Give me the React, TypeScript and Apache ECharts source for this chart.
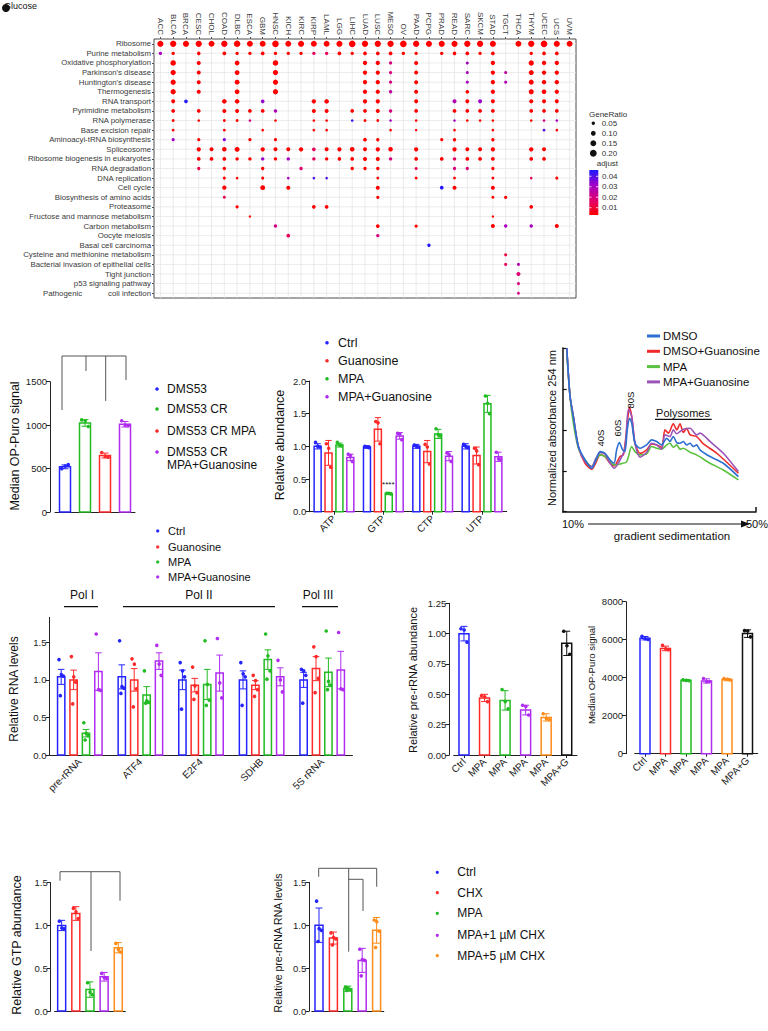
import { useEffect, useRef } from 'react';
import * as echarts from 'echarts';

const FONT = '"Liberation Sans", Arial, Helvetica, sans-serif';

// ---------------- Panel A: KEGG enrichment dot plot ----------------
const cancerTypes = ['ACC','BLCA','BRCA','CESC','CHOL','COAD','DLBC','ESCA','GBM','HNSC','KICH','KIRC','KIRP','LAML','LGG','LIHC','LUAD','LUSC','MESO','OV','PAAD','PCPG','PRAD','READ','SARC','SKCM','STAD','TGCT','THCA','THYM','UCEC','UCS','UVM'];
const pathways = ['Ribosome','Purine metabolism','Oxidative phosphorylation',"Parkinson's disease","Huntington's disease",'Thermogenesis','RNA transport','Pyrimidine metabolism','RNA polymerase','Base excision repair','Aminoacyl-tRNA biosynthesis','Spliceosome','Ribosome biogenesis in eukaryotes','RNA degradation','DNA replication','Cell cycle','Biosynthesis of amino acids','Proteasome','Fructose and mannose metabolism','Carbon metabolism','Oocyte meiosis','Basal cell carcinoma','Cysteine and methionine metabolism','Bacterial invasion of epithelial cells','Tight junction','p53 signaling pathway','Pathogenic            coli infection'];
// [cancer type, GeneRatio, adjusted p (default 0.002)]
const ribosomeDots = [['ACC',.16],['BLCA',.17],['BRCA',.16],['CESC',.17],['CHOL',.15],['COAD',.17],['DLBC',.18],['ESCA',.15],['GBM',.15],['HNSC',.19],['KICH',.15],['KIRC',.16],['KIRP',.15],['LAML',.15],['LGG',.16],['LIHC',.19],['LUAD',.17],['LUSC',.17],['MESO',.17],['OV',.19],['PAAD',.17],['PCPG',.16],['PRAD',.16],['READ',.16],['SARC',.17],['SKCM',.17],['STAD',.16],['THCA',.15],['THYM',.17],['UCEC',.19],['UCS',.16],['UVM',.15]];
const purineDots = [['ACC',.05,.03],['BLCA',.05],['CESC',.055],['COAD',.06],['DLBC',.05],['ESCA',.05],['GBM',.06],['HNSC',.05],['KICH',.05],['KIRC',.05],['KIRP',.05,.015],['LAML',.05,.015],['LGG',.06],['LIHC',.05],['LUAD',.06],['LUSC',.06],['MESO',.06],['OV',.05],['PAAD',.05],['PRAD',.05],['READ',.055],['SARC',.06],['SKCM',.05],['STAD',.06],['THYM',.05],['UCEC',.06],['UCS',.06]];
const oxphosDots = [['BLCA',.13],['CESC',.07],['DLBC',.1],['HNSC',.13],['LUAD',.08],['LUSC',.08],['MESO',.045,.02],['PAAD',.07],['SARC',.04,.03],['STAD',.08],['THYM',.12],['UCEC',.08],['UCS',.08]];
const parkinsonDots = [['BLCA',.12],['CESC',.07],['DLBC',.1],['HNSC',.12],['LUAD',.08],['LUSC',.08],['MESO',.045,.02],['PAAD',.07],['SARC',.04,.03],['STAD',.08],['TGCT',.04,.025],['THYM',.11],['UCEC',.08],['UCS',.08]];
const huntingtonDots = [['BLCA',.12],['CESC',.07],['DLBC',.1],['HNSC',.12],['LUAD',.08],['LUSC',.08],['MESO',.045,.02],['PAAD',.07],['SARC',.04,.03],['STAD',.08],['TGCT',.04,.028],['THYM',.11],['UCEC',.08],['UCS',.08]];
const thermoDots = [['BLCA',.12],['CESC',.07],['DLBC',.1],['HNSC',.12],['LUAD',.08],['LUSC',.08],['MESO',.05,.025],['PAAD',.07],['SARC',.06],['STAD',.08],['THYM',.11],['UCEC',.09],['UCS',.08]];
const rnaTransportDots = [['BLCA',.07],['BRCA',.06,.045],['COAD',.09],['DLBC',.09],['GBM',.06,.033],['KIRP',.08],['LAML',.09],['LUAD',.08],['LUSC',.08],['PAAD',.07],['READ',.07,.028],['SARC',.07],['SKCM',.07,.032],['STAD',.07],['THYM',.07],['UCEC',.07],['UCS',.07]];
const pyrimidineDots = [['BLCA',.06],['CESC',.06],['COAD',.07],['DLBC',.07],['ESCA',.06],['GBM',.06],['HNSC',.05,.03],['KIRP',.07],['LAML',.07],['LIHC',.06],['LUAD',.06],['LUSC',.07],['MESO',.05,.02],['PAAD',.06],['READ',.06],['SARC',.06],['SKCM',.06],['STAD',.06],['THYM',.06],['UCEC',.06],['UCS',.06]];
const rnaPolDots = [['BLCA',.035],['CESC',.03],['COAD',.035],['DLBC',.035],['ESCA',.03,.02],['HNSC',.03],['KIRP',.03],['LAML',.03],['LIHC',.03,.042],['LUAD',.035],['LUSC',.035],['MESO',.03,.03],['PAAD',.03],['READ',.03,.03],['SARC',.03],['SKCM',.03],['STAD',.03],['THYM',.03],['UCEC',.03,.02],['UCS',.03,.03]];
const berDots = [['BLCA',.035],['COAD',.035],['GBM',.03],['KIRP',.03],['LAML',.03],['MESO',.03],['PAAD',.025],['READ',.03],['STAD',.03],['UCEC',.035,.04],['UCS',.03]];
const aminoacylDots = [['BLCA',.045,.032],['CESC',.045],['COAD',.045,.035],['ESCA',.045],['HNSC',.045],['LUAD',.06],['LUSC',.05],['PRAD',.045],['READ',.05],['STAD',.05]];
const spliceosomeDots = [['CESC',.08],['CHOL',.07],['COAD',.09],['DLBC',.11],['GBM',.08],['HNSC',.07],['KICH',.07],['KIRC',.08],['KIRP',.06,.015],['LAML',.07],['LGG',.08],['LIHC',.09],['LUAD',.07],['LUSC',.08],['MESO',.09],['PAAD',.08],['READ',.08],['SARC',.07],['SKCM',.07],['STAD',.08],['THYM',.08],['UCEC',.07]];
const ribiDots = [['CESC',.06],['CHOL',.06],['COAD',.06],['DLBC',.05],['ESCA',.05],['GBM',.05,.032],['HNSC',.05],['KICH',.05,.03],['KIRP',.05,.015],['LAML',.05],['LGG',.055],['LIHC',.06],['LUAD',.07],['LUSC',.07],['MESO',.05,.02],['PAAD',.06],['PRAD',.06],['READ',.05,.015],['SARC',.06],['SKCM',.06],['STAD',.06],['THYM',.06],['UCEC',.06]];
const rnaDegDots = [['CESC',.045,.012],['COAD',.05],['GBM',.05],['KIRC',.05,.018],['LIHC',.05],['LUAD',.05],['LUSC',.05],['PAAD',.04,.012],['READ',.045,.02],['SARC',.045,.018],['STAD',.045]];
const dnaRepDots = [['COAD',.04],['DLBC',.03],['GBM',.04],['KICH',.03,.03],['KIRP',.03,.04],['LAML',.03,.04],['LUSC',.035],['PAAD',.035],['READ',.035],['STAD',.035],['THYM',.03,.015],['UCS',.04]];
const cellCycleDots = [['COAD',.08],['GBM',.1],['KICH',.07],['LUSC',.07],['PRAD',.06,.045],['READ',.07],['STAD',.07]];
const aaBiosynDots = [['COAD',.04,.012],['LUSC',.045],['STAD',.04],['TGCT',.045]];
const proteasomeDots = [['DLBC',.045],['KIRP',.06],['LAML',.06],['THYM',.06]];
const fructoseDots = [['ESCA',.025],['STAD',.025]];
const carbonDots = [['HNSC',.05,.02],['LUSC',.06],['PAAD',.045],['STAD',.07],['TGCT',.05,.03],['THYM',.05,.03],['UCS',.07]];
const oocyteDots = [['KICH',.06,.015],['LUSC',.05,.02]];
const basalDots = [['PCPG',.05,.045]];
const cysteineDots = [['TGCT',.04,.012]];
const bacterialDots = [['TGCT',.04,.015],['THCA',.04,.028]];
const tightDots = [['THCA',.07,.018]];
const p53Dots = [['THCA',.04,.02]];
const pathogenicDots = [['THCA',.035,.02]];
const pathwayDots = [ribosomeDots, purineDots, oxphosDots, parkinsonDots, huntingtonDots, thermoDots, rnaTransportDots, pyrimidineDots, rnaPolDots, berDots, aminoacylDots, spliceosomeDots, ribiDots, rnaDegDots, dnaRepDots, cellCycleDots, aaBiosynDots, proteasomeDots, fructoseDots, carbonDots, oocyteDots, basalDots, cysteineDots, bacterialDots, tightDots, p53Dots, pathogenicDots];
const geneRatioLegend = [0.05, 0.10, 0.15, 0.20];
const adjustLegend = [0.04, 0.03, 0.02, 0.01];

// ---------------- Panel B: OP-Puro DMS53 ----------------
const opGroups = ['DMS53', 'DMS53 CR', 'DMS53 CR MPA', 'DMS53 CR\nMPA+Guanosine'];
const opMean = [520, 1025, 650, 1010];
const opSd = [22, 38, 28, 32];
const opPts = [[500, 530, 545], [1060, 1050, 985], [685, 640, 630], [1050, 1000, 995]];

// ---------------- Panel C: nucleotide abundance ----------------
const nucleotides = ['ATP', 'GTP', 'CTP', 'UTP'];
const nucTreatments = ['Ctrl', 'Guanosine', 'MPA', 'MPA+Guanosine'];
const nucMean = [[1.0, 0.99, 1.0, 1.0], [0.9, 1.26, 0.92, 0.86], [1.02, 0.28, 1.19, 1.65], [0.83, 1.16, 0.85, 0.84]];
const nucSd = [[0.04, 0.02, 0.03, 0.04], [0.19, 0.18, 0.17, 0.13], [0.03, 0.01, 0.07, 0.13], [0.05, 0.05, 0.07, 0.07]];
const nucPts = [
  [[1.06, 1.0, 0.99], [1.0, 0.99, 0.98], [1.02, 1.0, 0.99], [1.03, 1.0, 0.98]],
  [[1.04, 0.97, 0.68], [1.38, 1.36, 1.04], [1.03, 0.99, 0.73], [0.97, 0.93, 0.72]],
  [[1.06, 1.02, 1.01], [0.28, 0.28, 0.27], [1.27, 1.18, 1.16], [1.77, 1.66, 1.5]],
  [[0.88, 0.86, 0.77], [1.2, 1.19, 1.1], [0.9, 0.87, 0.77], [0.91, 0.81, 0.8]],
];

// ---------------- Panel D: polysome profiles (x: % of gradient span, y: normalized A254) ----------------
const polyTreatments = ['DMSO', 'DMSO+Guanosine', 'MPA', 'MPA+Guanosine'];
const dmsoTrace = [[2.1,100],[2.9,84.7],[3.8,70.4],[5.5,58.2],[8.1,39.8],[11.6,31.6],[15,26.5],[17.2,31.6],[19.3,36.7],[21.9,35.7],[24.5,31.6],[26.6,29.6],[27.9,37.8],[29.3,42.2],[31,37.8],[32.2,36.7],[33.4,50],[34.6,57],[35.7,54.1],[37.4,41.8],[40,38.8],[43.4,40.8],[46,43.9],[48.6,42.9],[51.2,40.8],[53.8,44.9],[55.5,42.9],[57.2,45.9],[59,42.2],[60.7,41.8],[62.4,42.9],[64.1,40.8],[65.9,41.8],[67.6,39.8],[69.3,40.8],[71,37.8],[76.2,33.7],[83.1,29.6],[90.9,21.4]];
const dmsoGuaTrace = [[2.1,100],[3.8,70.4],[5.5,58.2],[8.1,39.8],[11.6,29.6],[15,25.9],[17.2,30],[19.3,34.7],[21.9,33.7],[24.5,29.6],[26.6,28],[29.7,33.7],[31.4,34.7],[33.1,50],[34.5,63.9],[35.7,58.2],[37.4,41.8],[40,35.7],[43.4,37.8],[46,41.4],[48.6,40.8],[51.2,39.4],[52.9,50],[54.7,48],[57.2,53.7],[59,50],[60.7,53.7],[62.4,48.4],[64.1,51],[65.9,46.9],[69.3,45.9],[72.8,41.4],[79.7,35.7],[90.9,23.5]];
const mpaTrace = [[2.1,96.9],[3.8,70.4],[5.5,54.1],[8.1,38.8],[11.6,31.6],[15,27.6],[17.2,31.6],[19.3,34.7],[21.9,33.7],[24.5,30.6],[26.6,28.6],[29.7,29.2],[33.1,30.6],[35.7,39.8],[37.4,36.7],[40,34.7],[43.4,35.3],[46,39.8],[48.6,38.8],[51.2,38.2],[53.8,40.8],[55.5,41.8],[57.2,39.4],[59,40.8],[60.7,38.2],[62.4,38.8],[65.9,36.3],[69.3,34.7],[76.2,29.6],[83.1,25.5],[90.9,19.4]];
const mpaGuaTrace = [[2.1,100],[3.8,70.4],[5.5,58.2],[8.1,39.8],[11.6,30.6],[15,27.6],[17.2,32.7],[19.3,36.1],[21.9,35.3],[24.5,29.6],[26.6,26.5],[29.7,31.6],[32.2,38.8],[34,62.7],[35.7,58.2],[37.4,41.8],[40,33.3],[43.4,36.1],[46,41.8],[48.6,40.8],[51.2,38.2],[52.9,46.9],[55.5,45.9],[57.2,50],[59,47.6],[60.7,49],[62.4,50.4],[65.9,51],[69.3,46.9],[71,48],[76.2,42.9],[83.1,35.7],[90.9,24.5]];
const peakLabels = ['40S', '60S', '80S'];

// ---------------- Panel E: relative RNA levels ----------------
const rnaTargets = ['pre-rRNA', 'ATF4', 'E2F4', 'SDHB', '5S rRNA'];
const rnaTreatments = ['Ctrl', 'Guanosine', 'MPA', 'MPA+Guanosine'];
const rnaMean = [[1.04, 1.04, 1.0, 1.0, 1.0], [1.0, 1.0, 0.93, 0.93, 1.15], [0.29, 0.8, 0.94, 1.27, 1.1], [1.11, 1.25, 1.09, 1.04, 1.13]];
const rnaSem = [[0.1, 0.16, 0.13, 0.12, 0.1], [0.13, 0.15, 0.09, 0.06, 0.16], [0.05, 0.11, 0.2, 0.13, 0.19], [0.25, 0.11, 0.24, 0.12, 0.25]];
const rnaPts = [
  [[1.27, 1.07, 1.05, 0.79], [1.52, 0.91, 0.89, 0.82], [1.23, 1.12, 1.04, 0.61], [1.23, 1.08, 1.04, 0.66], [1.14, 1.12, 1.06, 0.69]],
  [[1.31, 1.04, 0.97, 0.68], [1.28, 1.21, 0.88, 0.64], [1.17, 0.92, 0.83, 0.74], [1.06, 0.99, 0.87, 0.78], [1.44, 1.31, 1.02, 0.83]],
  [[0.43, 0.29, 0.26, 0.2], [1.12, 0.72, 0.7, 0.69], [1.52, 0.94, 0.73, 0.66], [1.61, 1.32, 1.12, 1.01], [1.65, 0.98, 0.93, 0.87]],
  [[1.61, 0.87, 0.86], [1.46, 1.21, 1.06], [1.55, 0.96, 0.76], [1.26, 1.0, 0.84], [1.63, 0.88, 0.87]],
];
const polGroups = ['Pol I', 'Pol II', 'Pol III'];

// ---------------- Panel F: pre-rRNA abundance ----------------
const doseGroups = ['Ctrl', 'MPA', 'MPA', 'MPA', 'MPA', 'MPA+G'];
const preMean = [1.0, 0.47, 0.45, 0.37, 0.31, 0.92];
const preSd = [0.06, 0.03, 0.08, 0.04, 0.03, 0.1];
const prePts = [[1.04, 1.03, 0.93], [0.49, 0.48, 0.44], [0.54, 0.44, 0.38], [0.41, 0.4, 0.33], [0.34, 0.3, 0.29], [1.02, 0.9, 0.83]];

// ---------------- Panel G: OP-Puro ----------------
const puroMean = [6080, 5540, 3860, 3830, 3900, 6320];
const puroSd = [90, 120, 40, 110, 60, 200];
const puroPts = [[6180, 6050, 6020], [5700, 5520, 5480], [3890, 3860, 3840], [3960, 3790, 3800], [3960, 3920, 3880], [6480, 6460, 6150]];

// ---------------- Panels H / I: CHX rescue ----------------
const chxGroups = ['Ctrl', 'CHX', 'MPA', 'MPA+1 µM CHX', 'MPA+5 µM CHX'];
const gtpMean = [1.0, 1.14, 0.25, 0.4, 0.74];
const gtpSd = [0.06, 0.08, 0.09, 0.05, 0.06];
const gtpPts = [[1.05, 0.97, 0.96], [1.2, 1.16, 1.08], [0.33, 0.22, 0.19], [0.44, 0.39, 0.38], [0.79, 0.72, 0.69]];
const preChxMean = [1.0, 0.85, 0.26, 0.59, 0.94];
const preChxSem = [0.2, 0.07, 0.03, 0.14, 0.15];
const preChxPts = [[1.28, 0.96, 0.94, 0.81], [0.91, 0.86, 0.84, 0.77], [0.28, 0.27, 0.25, 0.24], [0.72, 0.6, 0.59, 0.41], [1.06, 1.04, 0.93, 0.74]];

// ---------------- styling ----------------
const BLUE = '#2424ff', RED = '#ff2a2a', GREEN = '#22bb22', PURPLE = '#b02cf0', ORANGE = '#ff8c1a', BLACK = '#111111';
const AX = '#222';
const HEAT = ['#ff0000', '#e0006e', '#a000c8', '#1a1aff'];
const dotSize = (r: number) => 6.8 * Math.sqrt(r / 0.2);

const T = (text: string, x: number, y: number, size: number, o: any = {}) => ({
  type: 'text', x, y, rotation: o.rot || 0, silent: true, z: 50,
  style: {
    text, fontSize: size, fontFamily: FONT, fill: o.color || '#111', fontWeight: o.weight || 'normal',
    textAlign: o.align || 'left', align: o.align || 'left',
    textVerticalAlign: 'middle', verticalAlign: 'middle',
  },
});
const L = (x1: number, y1: number, x2: number, y2: number, color = '#555', w = 1) => ({
  type: 'line', silent: true, z: 50, shape: { x1, y1, x2, y2 }, style: { stroke: color, lineWidth: w },
});
const C = (cx: number, cy: number, r: number, fill: string) => ({ type: 'circle', silent: true, z: 50, shape: { cx, cy, r }, style: { fill } });

const grid = (left: number, top: number, width: number, height: number, extra: any = {}) => ({
  left, top, width, height, containLabel: false, outerBoundsMode: 'none', ...extra,
});

const valY = (gi: number, max: number, interval: number, fmt: (v: number) => string, offset = 0, showMax = true) => ({
  type: 'value', gridIndex: gi, min: 0, max, interval, offset,
  axisLine: { show: true, lineStyle: { color: AX, width: 1 } },
  axisTick: { show: true, length: 4, lineStyle: { color: AX } },
  axisLabel: { fontSize: 9.5, color: '#222', margin: 3, formatter: fmt, fontFamily: FONT, showMaxLabel: showMax },
  splitLine: { show: false },
});
const catX = (gi: number, data: string[], showLabels: boolean, ticks: boolean, fontSize = 10) => ({
  type: 'category', gridIndex: gi, data,
  axisLine: { show: true, lineStyle: { color: AX, width: 1 } },
  axisTick: { show: ticks, alignWithLabel: true, length: 3, lineStyle: { color: AX } },
  axisLabel: { show: showLabels, rotate: 45, interval: 0, fontSize, color: '#222', margin: 5, fontFamily: FONT },
  splitLine: { show: false },
});

const JIT = [-0.3, 0.02, 0.3, -0.12];

function panelSeries(ax: number, means: number[][], errs: number[][], pts: number[][][], colors: string[], byGroup: boolean, spacing: number, barW: number) {
  const nG = means.length;
  const bars: number[][] = [];
  const dots: number[][] = [];
  means.forEach((row, g) => row.forEach((m, c) => {
    const ci = byGroup ? g : c;
    bars.push([c, g, m, errs[g][c], ci]);
    pts[g][c].forEach((v, k) => dots.push([c, g, v, k, ci]));
  }));
  const xOf = (api: any, c: number, g: number) => api.coord([c, 0])[0] + (g - (nG - 1) / 2) * spacing;
  const cap = Math.min(barW * 0.45, 3.5);
  return [
    {
      type: 'custom', xAxisIndex: ax, yAxisIndex: ax, data: bars, z: 3, silent: true,
      renderItem: (_p: any, api: any) => {
        const c = api.value(0), g = api.value(1), m = api.value(2), e = api.value(3);
        const col = colors[api.value(4)];
        const base = api.coord([c, 0]);
        const top = api.coord([c, m]);
        const hi = api.coord([c, m + e]);
        const lo = api.coord([c, Math.max(m - e, 0)]);
        const cx = xOf(api, c, g);
        return {
          type: 'group', children: [
            { type: 'rect', shape: { x: cx - barW / 2, y: top[1], width: barW, height: base[1] - top[1] }, style: { fill: '#ffffff', stroke: col, lineWidth: 1.5 } },
            { type: 'line', shape: { x1: cx, y1: hi[1], x2: cx, y2: lo[1] }, style: { stroke: col, lineWidth: 1 } },
            { type: 'line', shape: { x1: cx - cap, y1: hi[1], x2: cx + cap, y2: hi[1] }, style: { stroke: col, lineWidth: 1 } },
            { type: 'line', shape: { x1: cx - cap, y1: lo[1], x2: cx + cap, y2: lo[1] }, style: { stroke: col, lineWidth: 1 } },
          ],
        };
      },
    },
    {
      type: 'custom', xAxisIndex: ax, yAxisIndex: ax, data: dots, z: 4, silent: true,
      renderItem: (_p: any, api: any) => {
        const c = api.value(0), g = api.value(1), v = api.value(2), k = api.value(3);
        const col = colors[api.value(4)];
        const p = api.coord([c, v]);
        const cx = xOf(api, c, g) + JIT[k % JIT.length] * barW;
        return { type: 'circle', shape: { cx, cy: p[1], r: 1.8 }, style: { fill: col } };
      },
    },
  ];
}

function buildOption(): any {
  const dotData: number[][] = [];
  pathwayDots.forEach((row: any[], ri) => row.forEach((d: any[]) => {
    dotData.push([cancerTypes.indexOf(d[0]), ri, d[1], d[2] === undefined ? 0.002 : d[2]]);
  }));

  const grids = [
    grid(154, 39, 422, 259, { show: true, borderColor: '#4d4d4d', borderWidth: 1, backgroundColor: '#ffffff' }), // 0 A
    grid(55, 381.7, 80, 130.3), // 1 B
    grid(309.3, 381, 197.4, 130.7), // 2 C
    grid(562.7, 348, 193.3, 163.7), // 3 D
    grid(49.5, 617.3, 303, 137.7), // 4 E
    grid(453.7, 603.3, 123.3, 151.7), // 5 F
    grid(634.75, 601.7, 123, 152), // 6 G
    grid(54.6, 882.7, 70.75, 128.3), // 7 H
    grid(311.8, 882.3, 72, 128.7), // 8 I
  ];

  const xAxis: any[] = [
    {
      type: 'category', gridIndex: 0, data: cancerTypes, position: 'top',
      axisLine: { show: false },
      axisTick: { show: true, alignWithLabel: true, length: 2, lineStyle: { color: '#4d4d4d' } },
      axisLabel: { rotate: 90, interval: 0, fontSize: 8, color: '#3a3a3a', margin: 4, fontFamily: FONT },
      splitLine: { show: false },
    },
    catX(1, opGroups, false, false),
    catX(2, nucleotides, true, true, 10),
    { type: 'value', gridIndex: 3, min: 0, max: 100, axisLine: { show: true, lineStyle: { color: BLACK, width: 1.5 } }, axisTick: { show: false }, axisLabel: { show: false }, splitLine: { show: false } },
    catX(4, rnaTargets, true, false, 10),
    catX(5, doseGroups, true, true, 10),
    catX(6, doseGroups, true, true, 10),
    catX(7, chxGroups, false, false),
    catX(8, chxGroups, false, false),
  ];
  const yAxis: any[] = [
    {
      type: 'category', gridIndex: 0, data: pathways, inverse: true,
      axisLine: { show: false },
      axisTick: { show: true, alignWithLabel: true, length: 2, lineStyle: { color: '#4d4d4d' } },
      axisLabel: { interval: 0, fontSize: 7.8, color: '#3a3a3a', margin: 3, fontFamily: FONT },
      splitLine: { show: false },
    },
    valY(1, 1500, 500, (v) => String(v), 5),
    valY(2, 2, 0.5, (v) => v.toFixed(1)),
    { type: 'value', gridIndex: 3, min: 0, max: 100, interval: 25, axisLine: { show: true, lineStyle: { color: BLACK, width: 1.5 } }, axisTick: { show: true, inside: true, length: 4, lineStyle: { color: BLACK, width: 1.2 } }, axisLabel: { show: false }, splitLine: { show: false } },
    valY(4, 1.833, 0.5, (v) => v.toFixed(1), 0, false),
    valY(5, 1.25, 0.25, (v) => v.toFixed(2), 4.4),
    valY(6, 8000, 2000, (v) => String(v), 8.75),
    valY(7, 1.5, 0.5, (v) => v.toFixed(1), 3.9),
    valY(8, 1.5, 0.5, (v) => v.toFixed(1), 2.5),
  ];

  const series: any[] = [
    {
      type: 'scatter', xAxisIndex: 0, yAxisIndex: 0, data: dotData, z: 5, silent: true,
      symbolSize: (v: number[]) => dotSize(v[2]),
      itemStyle: { opacity: 1 },
    },
    {
      type: 'custom', xAxisIndex: 0, yAxisIndex: 0, z: 1, silent: true,
      data: cancerTypes.map((_, i) => [i, 0]),
      renderItem: (p: any, api: any) => {
        const x = api.coord([api.value(0), 0])[0];
        return { type: 'line', shape: { x1: x, y1: p.coordSys.y, x2: x, y2: p.coordSys.y + p.coordSys.height }, style: { stroke: '#e6e6e6', lineWidth: 0.8 } };
      },
    },
    {
      type: 'custom', xAxisIndex: 0, yAxisIndex: 0, z: 1, silent: true,
      data: pathways.map((_, j) => [0, j]),
      renderItem: (p: any, api: any) => {
        const y = api.coord([0, api.value(1)])[1];
        return { type: 'line', shape: { x1: p.coordSys.x, y1: y, x2: p.coordSys.x + p.coordSys.width, y2: y }, style: { stroke: '#e6e6e6', lineWidth: 0.8 } };
      },
    },
    ...panelSeries(1, [opMean], [opSd], [opPts], [BLUE, GREEN, RED, PURPLE], false, 0, 11),
    ...panelSeries(2, nucMean, nucSd, nucPts, [BLUE, RED, GREEN, PURPLE], true, 10.9, 7),
    ...[dmsoTrace, dmsoGuaTrace, mpaTrace, mpaGuaTrace].map((tr, i) => ({
      type: 'line', xAxisIndex: 3, yAxisIndex: 3, data: tr, showSymbol: false, smooth: 0.25, silent: true, z: 3 + (i === 0 ? 2 : 0),
      name: polyTreatments[i],
      lineStyle: { width: 1.6, color: ['#2d6fd0', '#ee2a2a', '#5cc040', '#9b55b8'][i] },
    })),
    ...panelSeries(4, rnaMean, rnaSem, rnaPts, [BLUE, RED, GREEN, PURPLE], true, 12.4, 7.3),
    ...panelSeries(5, [preMean], [preSd], [prePts], [BLUE, RED, GREEN, PURPLE, ORANGE, BLACK], false, 0, 10),
    ...panelSeries(6, [puroMean], [puroSd], [puroPts], [BLUE, RED, GREEN, PURPLE, ORANGE, BLACK], false, 0, 10),
    ...panelSeries(7, [gtpMean], [gtpSd], [gtpPts], [BLUE, RED, GREEN, PURPLE, ORANGE], false, 0, 8),
    ...panelSeries(8, [preChxMean], [preChxSem], [preChxPts], [BLUE, RED, GREEN, PURPLE, ORANGE], false, 0, 8),
  ];

  const g: any[] = [];
  g.push(T('Glucose', 4, 6, 9, { color: '#111' }));
  g.push(C(6, 8, 4, '#111'));

  // Dot plot legend
  g.push(T('GeneRatio', 589, 114, 8, { color: '#333' }));
  geneRatioLegend.forEach((v, i) => {
    g.push(C(593.3, 123.3 + 10 * i, dotSize(v) / 2, '#111'));
    g.push(T(v.toFixed(2), 601.7, 123.3 + 10 * i, 8, { color: '#333' }));
  });
  g.push(T('adjust', 596.7, 163, 8, { color: '#333' }));
  g.push({
    type: 'rect', silent: true, z: 50, shape: { x: 589.3, y: 170, width: 9, height: 45 },
    style: { fill: new echarts.graphic.LinearGradient(0, 0, 0, 1, [
      { offset: 0, color: HEAT[3] }, { offset: 0.33, color: HEAT[2] }, { offset: 0.67, color: HEAT[1] }, { offset: 1, color: HEAT[0] },
    ]) },
  });
  adjustLegend.forEach((v) => {
    const y = 215 - ((v - 0.003) / 0.043) * 45;
    g.push(L(589.3, y, 591.5, y, '#ffffff', 0.8));
    g.push(L(596.1, y, 598.3, y, '#ffffff', 0.8));
    g.push(T(v.toFixed(2), 602, y, 8, { color: '#333' }));
  });

  // Panel B
  g.push(T('Median OP-Puro signal', 15, 446, 12.5, { rot: Math.PI / 2, align: 'center' }));
  [[62, 356, 126, 356], [62, 356, 62, 410], [86, 356, 86, 371], [105.7, 356, 105.7, 401], [126, 356, 126, 380]].forEach((l) => g.push(L(l[0], l[1], l[2], l[3])));
  const opY = [389, 409, 431, 452];
  opGroups.forEach((name, i) => {
    g.push(C(157, opY[i], 1.8, [BLUE, GREEN, RED, PURPLE][i]));
    name.split('\n').forEach((ln, j) => g.push(T(ln, 167, opY[i] + j * 13, 12)));
  });

  // Panel C
  g.push(T('Relative abundance', 280, 445, 12.5, { rot: Math.PI / 2, align: 'center' }));
  nucTreatments.forEach((name, i) => {
    g.push(C(327, 342.7 + 18 * i, 1.8, [BLUE, RED, GREEN, PURPLE][i]));
    g.push(T(name, 338, 342.7 + 18 * i, 12.5));
  });
  g.push(T('****', 388.3, 484, 8, { align: 'center' }));

  // Panel D
  g.push(T('Normalized absorbance 254 nm', 551.7, 428, 11, { rot: Math.PI / 2, align: 'center' }));
  polyTreatments.forEach((name, i) => {
    const y = 336 + 15.3 * i;
    g.push(L(647, y, 660, y, ['#2d6fd0', '#ee2a2a', '#5cc040', '#9b55b8'][i], 3));
    g.push(T(name, 663, y, 11.5));
  });
  g.push(T(peakLabels[0], 600.7, 438, 9.5, { rot: Math.PI / 2, align: 'center' }));
  g.push(T(peakLabels[1], 617, 428, 9.5, { rot: Math.PI / 2, align: 'center' }));
  g.push(T(peakLabels[2], 630, 400, 9.5, { rot: Math.PI / 2, align: 'center' }));
  g.push(T('Polysomes', 683, 413, 11, { align: 'center' }));
  g.push(L(655, 419.3, 711.7, 419.3, '#111', 1.2));
  g.push(L(756, 511.7, 756, 507, '#111', 1.5));
  g.push(T('10%', 573, 524, 11, { align: 'center' }));
  g.push(T('50%', 757, 524, 11, { align: 'center' }));
  g.push(L(588, 524, 742, 524, '#111', 1));
  g.push({ type: 'polygon', silent: true, z: 50, shape: { points: [[741, 520.5], [750, 524], [741, 527.5]] }, style: { fill: '#111' } });
  g.push(T('gradient sedimentation', 672, 536, 11.5, { align: 'center' }));

  // Panel E
  g.push(T('Relative RNA levels', 13.5, 689, 12, { rot: Math.PI / 2, align: 'center' }));
  const eLegY = [531, 547, 562, 577];
  rnaTreatments.forEach((name, i) => {
    g.push(C(157.7, eLegY[i], 1.6, [BLUE, RED, GREEN, PURPLE][i]));
    g.push(T(name, 168, eLegY[i], 11));
  });
  const polX = [[82, 64, 98], [199, 123, 275], [318, 302, 338]];
  polGroups.forEach((name, i) => {
    g.push(T(name, polX[i][0], 595, 12, { align: 'center' }));
    g.push(L(polX[i][1], 606.7, polX[i][2], 606.7, '#111', 1.2));
  });

  // Panel F, G
  g.push(T('Relative pre-rRNA abundance', 413.3, 680, 11, { rot: Math.PI / 2, align: 'center' }));
  g.push(T('Median OP-Puro signal', 591.7, 675, 9.5, { rot: Math.PI / 2, align: 'center' }));

  // Panel H
  g.push(T('Relative GTP abundance', 17.3, 945, 12.5, { rot: Math.PI / 2, align: 'center' }));
  [[60, 871.7, 120, 871.7], [60, 871.7, 60, 880.7], [91, 871.7, 91, 951], [120, 871.7, 120, 900.7]].forEach((l) => g.push(L(l[0], l[1], l[2], l[3])));

  // Panel I
  g.push(T('Relative pre-rRNA RNA levels', 278.3, 943, 10.5, { rot: Math.PI / 2, align: 'center' }));
  [[318.7, 868.3, 376.7, 868.3], [318.7, 868.3, 318.7, 876.7], [348.7, 868.3, 348.7, 951.7], [376.7, 868.3, 376.7, 886.7], [348.7, 879.3, 363, 879.3], [363, 879.3, 363, 911]].forEach((l) => g.push(L(l[0], l[1], l[2], l[3])));

  // Legend J
  const jY = [872.3, 892.7, 913.3, 935.3, 955.7];
  chxGroups.forEach((name, i) => {
    g.push(C(437.3, jY[i], 1.6, [BLUE, RED, GREEN, PURPLE, ORANGE][i]));
    g.push(T(name, 457.3, jY[i], 12));
  });

  return {
    animation: false,
    backgroundColor: '#ffffff',
    textStyle: { fontFamily: FONT },
    grid: grids,
    xAxis,
    yAxis,
    visualMap: [{
      show: false, type: 'continuous', seriesIndex: 0, dimension: 3, min: 0.003, max: 0.046,
      inRange: { color: HEAT },
    }],
    series,
    graphic: { elements: g },
  };
}

export default function App() {
  const ref = useRef<HTMLDivElement>(null);
  useEffect(() => {
    const chart = echarts.init(ref.current as HTMLDivElement, null, { renderer: 'svg' });
    chart.setOption(buildOption());
    return () => chart.dispose();
  }, []);
  return <div ref={ref} style={{ position: 'absolute', left: 0, top: 0, width: 768, height: 1031, background: '#fff' }} />;
}
